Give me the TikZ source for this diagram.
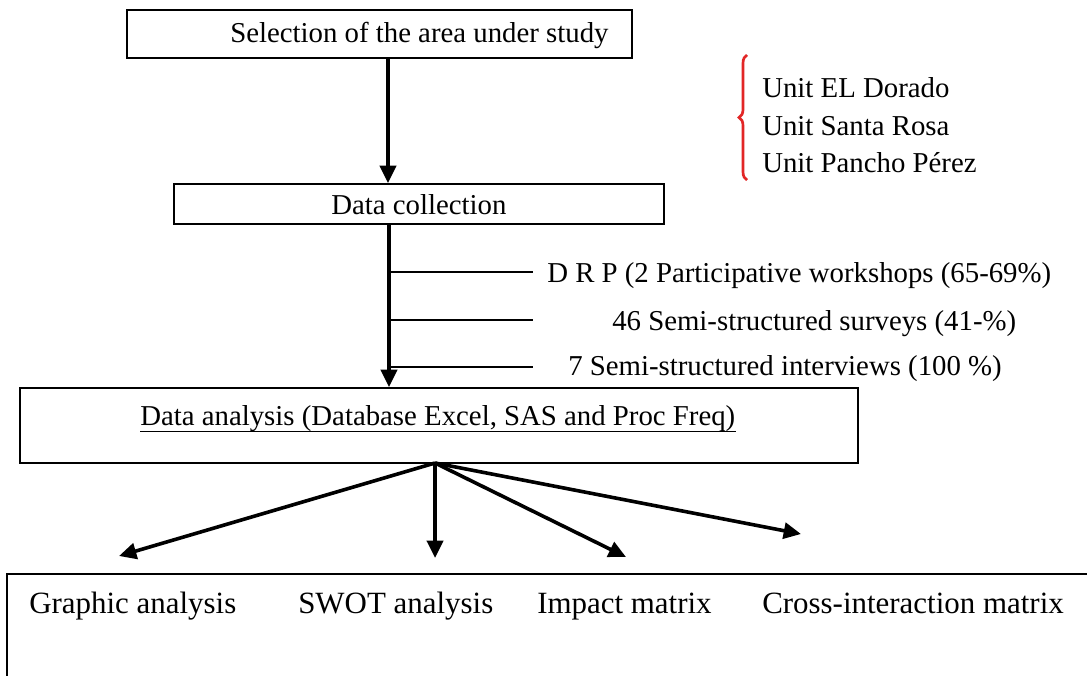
\documentclass[tikz,border=0pt]{standalone}
\usepackage{fontspec}
\setmainfont{Liberation Serif}
\usetikzlibrary{arrows.meta,decorations.pathreplacing}
\definecolor{bracered}{RGB}{226,38,38}
\tikzset{
  box/.style={draw, line width=1.4pt, inner sep=0pt},
  lbl/.style={anchor=base west, inner sep=0pt, font=\fontsize{21.6}{25}\selectfont},
  lblbig/.style={lbl, font=\fontsize{23.2}{27}\selectfont},
  flow/.style={line width=2.7pt, -{Triangle[length=13pt,width=12pt]}},
  branch/.style={line width=1.1pt},
}
\begin{document}
\begin{tikzpicture}[x=0.75pt,y=-0.75pt]
\useasboundingbox (0,0) rectangle (1087,675);
\clip (0,0) rectangle (1087,675);
\fill[white] (0,0) rectangle (1087,675);

% process boxes
\node[box, minimum width=378.75pt, minimum height=36pt] (sel) at (379.5,34) {};
\node[box, minimum width=367.5pt, minimum height=30pt] (col) at (419,204) {};
\node[box, minimum width=628.5pt, minimum height=56.25pt] (ana) at (439,425.5) {};
\node[box, minimum width=819pt, minimum height=92.25pt] (res) at (553,635.5) {};

% box captions
\node[lbl] (selt) at (230,42) {Selection of the area under study};
\node[lbl] (colt) at (331,214) {Data collection};
\node[lbl] (anat) at (140,425) {Data analysis (Database Excel, SAS and Proc Freq)};
\draw[line width=1.2pt] ([yshift=-4.8pt]anat.base west) -- ([yshift=-4.8pt]anat.base east);

% study units with brace
\draw[bracered, line width=2pt, decorate, decoration={brace, amplitude=6pt}]
  (747,180) -- (747,55);
\node[lbl] (u1) at (762,97) {Unit EL Dorado};
\node[lbl] (u2) at (762,135) {Unit Santa Rosa};
\node[lbl] (u3) at (762,172) {Unit Pancho Pérez};

% main stems
\coordinate (s1) at (388,0);
\coordinate (s2) at (389,0);
\draw[flow] (sel.south -| s1) -- (col.north -| s1);
\draw[flow] (col.south -| s2) -- (ana.north -| s2);

% collection methods branching off the stem
\coordinate (e1) at (533,272);
\coordinate (e2) at (533,320);
\coordinate (e3) at (533,367);
\draw[branch] (e1 -| s2) -- (e1);
\draw[branch] (e2 -| s2) -- (e2);
\draw[branch] (e3 -| s2) -- (e3);
\node[lbl] (m1) at (547,282) {D R P (2 Participative workshops (65-69\%)};
\node[lbl] (m2) at (612,330) {46 Semi-structured surveys (41-\%)};
\node[lbl] (m3) at (568,375) {7 Semi-structured interviews (100 \%)};

% analysis outputs
\coordinate (hub) at (435,463);
\coordinate (t1) at (119,556);
\coordinate (t2) at (435,558);
\coordinate (t3) at (626,557);
\coordinate (t4) at (801,534);
\draw[flow] (hub) -- (t1);
\draw[flow] (hub) -- (t2);
\draw[flow] (hub) -- (t3);
\draw[flow] (hub) -- (t4);

\node[lblbig] (o1) at (29,613) {Graphic analysis};
\node[lblbig] (o2) at (298,613) {SWOT analysis};
\node[lblbig] (o3) at (537,613) {Impact matrix};
\node[lblbig] (o4) at (762,613) {Cross-interaction matrix};
\end{tikzpicture}
\end{document}
